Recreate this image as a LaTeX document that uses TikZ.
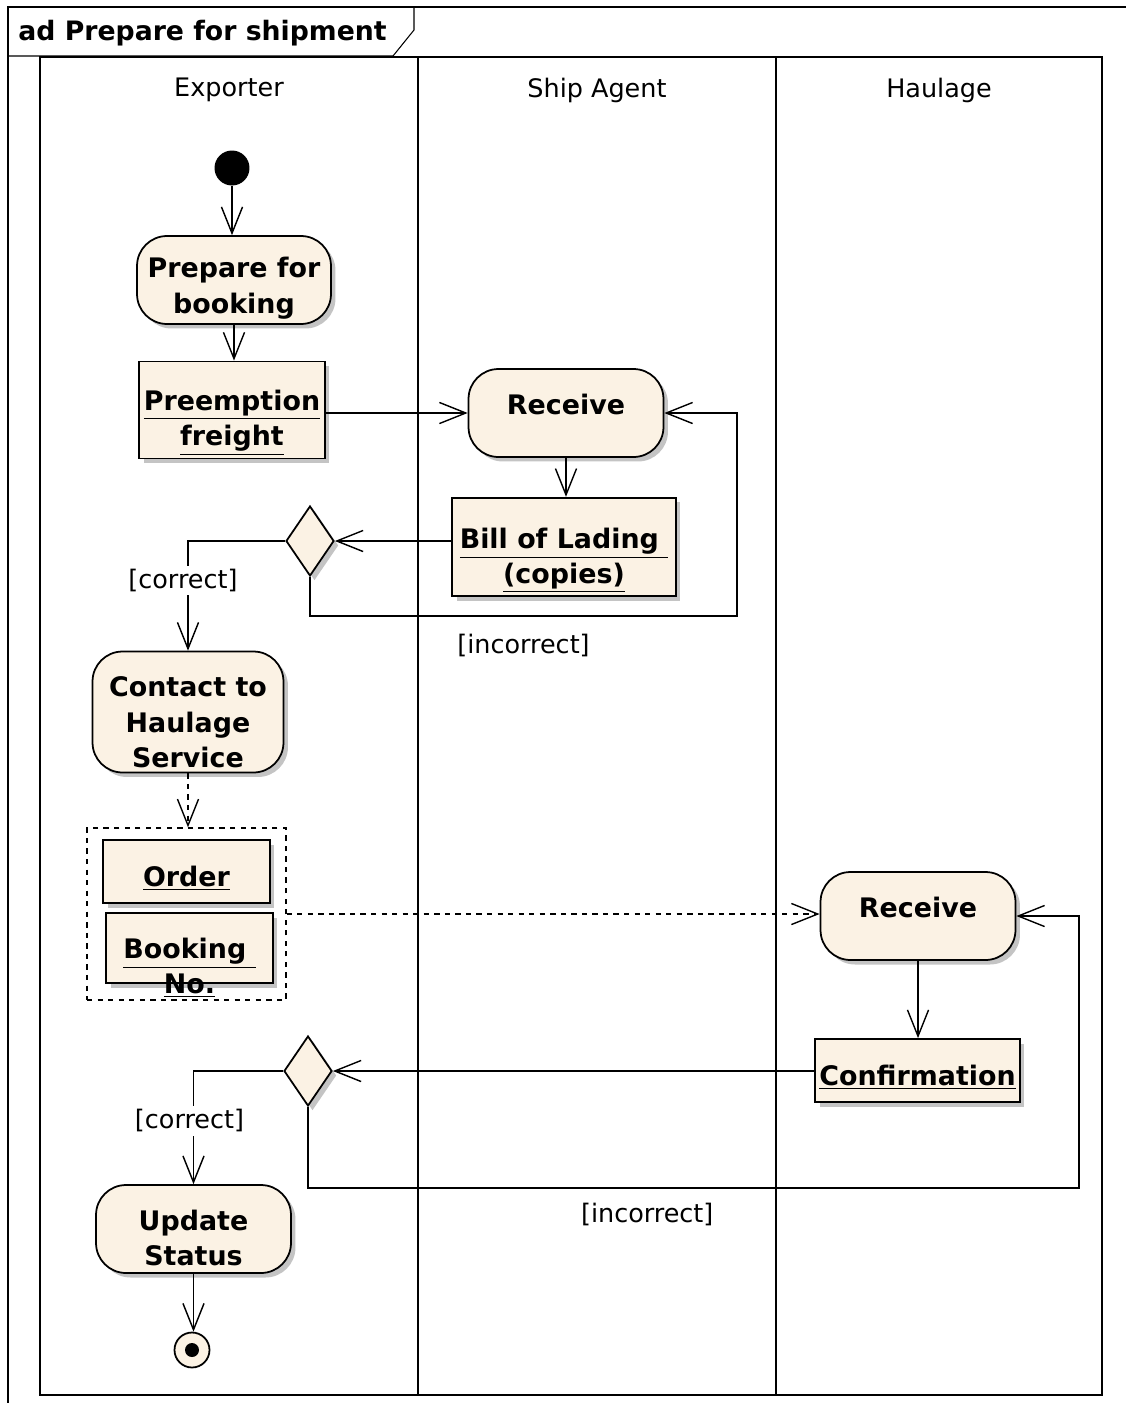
\documentclass[tikz,border=0pt]{standalone}
\usepackage{fontspec}
\setmainfont{DejaVu Sans}
\usepackage{tikz}
\usetikzlibrary{arrows.meta,shapes.geometric,shadows}

\definecolor{actfill}{RGB}{251,242,228}
\definecolor{shadowgray}{RGB}{196,196,196}
\newcommand{\actfont}{\fontsize{15.3}{20}\selectfont\bfseries}
\newcommand{\titlefont}{\fontsize{15.2}{18}\selectfont\bfseries}
\newcommand{\guardfont}{\fontsize{14.5}{17}\selectfont}
\newcommand{\topgap}[1]{\rule{0pt}{\dimexpr 12pt+#1\relax}}

\tikzset{
	frame/.style={line width=0.6pt},
	lane/.style={line width=0.8pt},
	lanelabel/.style={font=\guardfont},
	shade/.style={general shadow={fill=shadowgray, shadow xshift=0.09cm, shadow yshift=-0.09cm}},
	activity/.style={draw, line width=1pt, fill=actfill, rounded corners=0.6cm, align=center, font=\actfont, inner sep=2pt, shade},
	object/.style={draw, line width=1pt, fill=actfill, align=center, font=\actfont, inner sep=2pt, shade},
	decision/.style={draw, diamond, line width=1pt, fill=actfill, minimum width=0.96cm, minimum height=1.4cm, inner sep=0pt, shade},
	group/.style={draw, dashed, line width=0.8pt},
	initial/.style={circle, fill=black, minimum size=0.7cm, inner sep=0pt},
	final/.style={circle, draw, line width=1pt, fill=actfill, minimum size=0.7cm, inner sep=0pt},
	guard/.style={font=\guardfont, fill=white, inner sep=2pt},
	flow/.style={draw, line width=0.8pt, ->}
}

\begin{document}
\begin{tikzpicture}[x=0.02cm, y=-0.02cm, >={Straight Barb[length=15pt,width=12pt]}]
	\useasboundingbox (0,0) rectangle (1126,1403);
	
	\draw[frame] (8,1403) -- (8,7) -- (1126,7);
	\draw[frame] (8,56) -- (393,56) -- (414,30) -- (414,7);
	\node[anchor=west, inner sep=0pt, font=\titlefont] (title) at (18,33) {ad Prepare for shipment};
	
	\draw[lane] (40,57) rectangle (1102,1395);
	\draw[lane] (418,57) -- (418,1395);
	\draw[lane] (776,57) -- (776,1395);
	\node[lanelabel] (exporter) at (229,90) {Exporter};
	\node[lanelabel] (shipagent) at (597,90) {Ship Agent};
	\node[lanelabel] (haulage) at (939,90) {Haulage};
	
	\node[initial] (start) at (232,168) {};
	\node[activity, minimum width=3.88cm, minimum height=1.76cm] (prep) at (234,280) {\topgap{9pt}Prepare for\\booking};
	\node[object, minimum width=3.72cm, minimum height=1.9cm] (freight) at (232,410) {\topgap{14pt}\underline{Preemption}\\\underline{freight}};
	\node[activity, minimum width=3.9cm, minimum height=1.76cm, text depth=0.36cm] (rcvship) at (566,413) {Receive};
	\node[object, minimum width=4.48cm, minimum height=1.82cm] (lading) at (564,547) {\topgap{15pt}\underline{Bill of Lading\ }\\\underline{(copies)}};
	\node[decision] (chkship) at (310,541) {};
	\node[activity, minimum width=3.82cm, minimum height=2.42cm] (contact) at (188,712) {\topgap{11pt}Contact to\\Haulage\\Service};
	
	\node[group, minimum width=3.98cm, minimum height=3.44cm] (docs) at (186.5,914) {};
	\node[object, minimum width=3.34cm, minimum height=1.26cm] (order) at (186.5,871.5) {\topgap{7pt}\underline{Order}};
	\node[object, minimum width=3.34cm, minimum height=1.4cm] (booking) at (189.5,948) {};
	\node[font=\actfont, align=center, inner sep=0pt] (bookingno) at (189.5,968) {\underline{Booking\ }\\\underline{No.}};
	
	\node[activity, minimum width=3.9cm, minimum height=1.76cm, text depth=0.36cm] (rcvhaul) at (918,916) {Receive};
	\node[object, minimum width=4.1cm, minimum height=1.26cm] (confirm) at (917.5,1070.5) {\topgap{7pt}\underline{Confirmation}};
	\node[decision] (chkhaul) at (308,1071) {};
	\node[activity, minimum width=3.9cm, minimum height=1.76cm] (update) at (193.5,1229) {\topgap{10pt}Update\\Status};
	\node[final] (stop) at (192,1350) {};
	\fill (stop) circle (0.14cm);
	
	\draw[flow] (start) -- (start |- prep.north);
	\draw[flow] (prep.south) -- (prep.south |- freight.north);
	\draw[flow] (freight.east |- rcvship) -- (rcvship.west);
	\draw[flow] (rcvship.south) -- (rcvship.south |- lading.north);
	\draw[flow] (lading.west |- chkship) -- (chkship.east);
	\draw[flow] (chkship.west) -| node[guard, pos=0.68, xshift=-0.1cm] {[correct]} (contact.north);
	\coordinate (backship) at (737,616);
	\draw[flow] (chkship.south) |- node[guard, pos=0.75, below=0.28cm] {[incorrect]} (backship) |- (rcvship.east);
	
	\draw[flow, dashed] (contact.south) -- (contact.south |- docs.north);
	\draw[flow, dashed] (docs.east) -- (docs.east -| rcvhaul.west);
	
	\draw[flow] (rcvhaul.south) -- (rcvhaul.south |- confirm.north);
	\draw[flow] (confirm.west |- chkhaul) -- (chkhaul.east);
	\draw[flow] (chkhaul.west) -| node[guard, pos=0.72, xshift=-0.08cm] {[correct]} (update.north);
	\coordinate (backhaul) at (1079,1188);
	\draw[flow] (chkhaul.south) |- node[guard, pos=0.72, below=0.22cm] {[incorrect]} (backhaul) |- (rcvhaul.east);
	\draw[flow] (update.south) -- (update.south |- stop.north);
\end{tikzpicture}
\end{document}
